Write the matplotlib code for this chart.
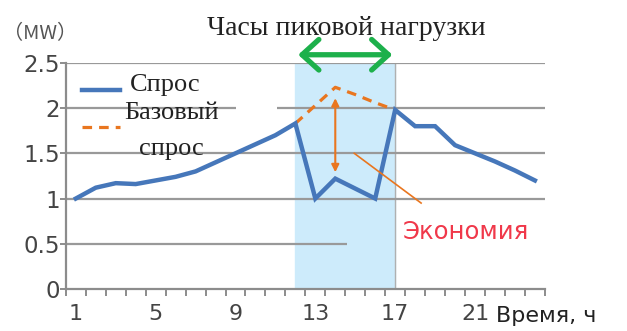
import matplotlib.pyplot as plt
from matplotlib.patches import FancyArrowPatch

# hourly demand, MW
hours = list(range(1, 25))
demand = [1.0, 1.12, 1.17, 1.16, 1.2, 1.24, 1.3, 1.4, 1.5, 1.6, 1.7, 1.83,
          1.0, 1.22, 1.11, 1.0, 1.98, 1.8, 1.8, 1.59, 1.5, 1.41, 1.31, 1.2]
# baseline demand during the peak window
base_hours = [12, 13, 14, 15, 16, 17]
base_demand = [1.83, 2.03, 2.23, 2.15, 2.06, 1.98]

peak_start, peak_end = 12, 17
saving_top, saving_bottom = 2.14, 1.26
yticks = [0, 0.5, 1, 1.5, 2, 2.5]
xtick_labels = [1, 5, 9, 13, 17, 21]

BLUE = "#4677BA"
ORANGE = "#E9761F"
GREEN = "#1DB04B"
GRAY = "#8C8C8C"
SERIF = ["Liberation Serif", "DejaVu Serif"]

fig = plt.figure(figsize=(6.27, 3.31), dpi=100)
ax = fig.add_axes([0.105, 0.127, 0.764, 0.683])
ax.set_xlim(0.5, 24.5)
ax.set_ylim(0, 2.5)

# peak hours band
ax.axvspan(peak_start, peak_end, color="#CDEBFB", zorder=0)
ax.axvline(peak_end, color="#B0B0B0", lw=1, zorder=0.5)

# horizontal grid, partly broken behind the labels
grid_kw = dict(color="#999999", lw=1.6, zorder=1)
ax.hlines(2.5, 0.5, 24.5, **grid_kw)
ax.hlines(2.0, 0.5, 9.05, **grid_kw)
ax.hlines(2.0, 11.1, 24.5, **grid_kw)
ax.hlines(1.5, 0.5, 24.5, **grid_kw)
ax.hlines(1.0, 0.5, 24.5, **grid_kw)
ax.hlines(0.5, 0.5, 14.6, **grid_kw)

ax.plot(hours, demand, color=BLUE, lw=3.2, zorder=4, solid_joinstyle="miter")
ax.plot(base_hours, base_demand, color=ORANGE, lw=2.3, ls=(0, (3, 2.2)), zorder=3)

# savings arrow and pointer line
ax.add_patch(FancyArrowPatch((14, saving_top), (14, saving_bottom),
                             arrowstyle="<|-|>", mutation_scale=11,
                             color=ORANGE, lw=1.5, zorder=5))
ax.plot([14.95, 18.3], [1.5, 0.95], color=ORANGE, lw=1.2, zorder=5)
ax.text(17.4, 0.63, "Экономия", color="#F0384A", fontsize=17.5,
        ha="left", va="center", zorder=6)

# peak hours arrow above the plot
ax.add_patch(FancyArrowPatch((peak_start, 2.59), (peak_end, 2.59),
                             arrowstyle="<->,head_length=0.55,head_width=0.5",
                             mutation_scale=22, color=GREEN, lw=3.8,
                             clip_on=False, zorder=6))
fig.text(0.553, 0.915, "Часы пиковой нагрузки", family=SERIF, fontsize=20,
         ha="center", va="center", color="#222222")

# legend drawn by hand
ax.plot([1.3, 3.2], [2.2, 2.2], color=BLUE, lw=3.2, clip_on=False)
ax.plot([1.3, 3.2], [1.79, 1.79], color=ORANGE, lw=2.3, ls=(0, (3, 2.2)))
ax.text(3.7, 2.25, "Спрос", family=SERIF, fontsize=19, ha="left", va="center",
        color="#222222", zorder=6)
ax.text(5.8, 1.95, "Базовый", family=SERIF, fontsize=19, ha="center", va="center",
        color="#222222", zorder=6)
ax.text(5.8, 1.55, "спрос", family=SERIF, fontsize=19, ha="center", va="center",
        color="#222222", zorder=6)

# axes styling
for side in ("top", "right"):
    ax.spines[side].set_visible(False)
for side in ("left", "bottom"):
    ax.spines[side].set_color(GRAY)
    ax.spines[side].set_linewidth(1.6)

ax.set_yticks(yticks)
ax.set_yticklabels(["0", "0.5", "1", "1.5", "2", "2.5"])
ax.tick_params(axis="y", length=4, width=1.4, color=GRAY, labelsize=16.5,
               labelcolor="#444444", pad=0)
ax.set_xticks(xtick_labels)
ax.set_xticklabels([str(h) for h in xtick_labels])
ax.set_xticks([h + 0.5 for h in range(0, 25)], minor=True)
ax.tick_params(axis="x", which="major", length=0, labelsize=16,
               labelcolor="#444444", pad=11)
ax.tick_params(axis="x", which="minor", length=5, width=1.4, color=GRAY)

ax.text(22.05, -0.3, "Время, ч", fontsize=16, ha="left", va="center",
        color="#222222", clip_on=False)
fig.text(0.004, 0.9, "（MW）", family=["Noto Sans CJK JP", "DejaVu Sans"],
         fontsize=14.5, color="#555555", ha="left", va="center")

fig.savefig("out.png", dpi=100)
